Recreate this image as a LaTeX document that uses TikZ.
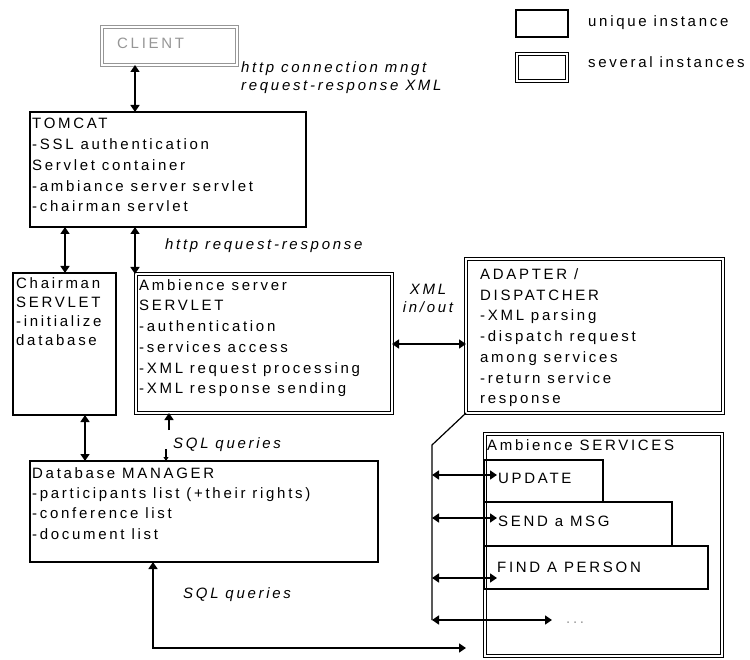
\documentclass[tikz,border=0pt]{standalone}
\usepackage{fontspec}
\setmainfont{Liberation Sans}[LetterSpace=18]
\usetikzlibrary{arrows.meta}
\definecolor{clientgrey}{RGB}{150,150,150}
\begin{document}
\begin{tikzpicture}[x=1pt,y=-1pt,
  >={Triangle[length=7pt,width=9pt]},
  box/.style={draw, line width=1.5pt, inner sep=0pt, outer sep=0pt, anchor=north west},
  multi/.style={draw, double, double distance=2pt, line width=1.2pt, inner sep=0pt, outer sep=0pt, anchor=north west},
  txt/.style={inner sep=0pt, anchor=base west, align=left, font=\fontsize{15}{20.7}\selectfont},
  mtxt/.style={inner sep=0pt, anchor=north west, align=left, font=\fontsize{15}{20.7}\selectfont},
  lab/.style={inner sep=0pt, anchor=base west, align=left, font=\fontsize{15}{18}\selectfont\itshape},
  mlab/.style={inner sep=0pt, anchor=north west, align=left, font=\fontsize{15}{18}\selectfont\itshape},
  conn/.style={line width=1.5pt, <->},
  wire/.style={line width=1.2pt}
]
\path[use as bounding box] (0,0) rectangle (750,660);

% legend
\node[box, minimum width=52pt, minimum height=27pt] (leg1) at (516,10) {};
\node[txt] (leg1t) at (588,27) {unique instance};
\node[multi, minimum width=50pt, minimum height=27pt] (leg2) at (517,54) {};
\node[txt] (leg2t) at (588,68) {several instances};

% client
\node[multi, draw=clientgrey, minimum width=135pt, minimum height=38pt] (client) at (102,27) {};
\node[txt, text=clientgrey] (clientt) at (117,49) {CLIENT};

% tomcat
\node[box, minimum width=276pt, minimum height=115pt] (tomcat) at (30,112) {};
\node[mtxt] (tomcatt) at (32,118.3) {TOMCAT\\-SSL authentication\\Servlet container\\-ambiance server servlet\\-chairman servlet};

% chairman
\node[box, minimum width=103pt, minimum height=142pt] (chair) at (13,273) {};
\node[mtxt, font=\fontsize{15}{19}\selectfont] (chairt) at (16,277.2) {Chairman\\SERVLET\\-initialize\\database};

% ambience server
\node[multi, minimum width=256pt, minimum height=139pt] (amb) at (136,274) {};
\node[mtxt] (ambt) at (139,279.2) {Ambience server\\SERVLET\\-authentication\\-services access\\-XML request processing\\-XML response sending};

% adapter
\node[multi, minimum width=257pt, minimum height=154pt] (adapt) at (466,259) {};
\node[mtxt] (adaptt) at (480,268.5) {ADAPTER /\\DISPATCHER\\-XML parsing\\-dispatch request\\among services\\-return service\\response};

% database
\node[box, minimum width=348pt, minimum height=101pt] (db) at (30,461) {};
\node[mtxt, font=\fontsize{15}{20.3}\selectfont] (dbt) at (32,467.3) {Database MANAGER\\-participants list (+their rights)\\-conference list\\-document list};

% services
\node[multi, minimum width=237pt, minimum height=222pt] (serv) at (485,434) {};
\node[txt] (servt) at (487,450) {Ambience SERVICES};
\node[box, minimum width=119pt, minimum height=42pt] (upd) at (484,460) {};
\node[txt] (updt) at (498,483) {UPDATE};
\node[box, minimum width=188pt, minimum height=44pt] (send) at (484,502) {};
\node[txt] (sendt) at (498,526) {SEND a MSG};
\node[box, minimum width=224pt, minimum height=43pt] (find) at (484,546) {};
\node[txt] (findt) at (497,572) {FIND A PERSON};
\node[txt, text=clientgrey] (dots) at (566,623) {...};

% labels
\node[mlab] (l1) at (241,61.2) {http connection mngt\\request-response XML};
\node[lab] (l2) at (165,250) {http request-response};
\node[mlab, align=center, anchor=north] (l3) at (428,284.2) {XML\\in/out};
\node[lab] (l4) at (173,448) {SQL queries};
\node[lab] (l5) at (183,598) {SQL queries};

% coordinates
\coordinate (c1) at (169,430);
\coordinate (c2) at (166,449);
\coordinate (bend) at (432,445);
\coordinate (busend) at (432,620);
\coordinate (b1) at (432,475);
\coordinate (b2) at (432,518);
\coordinate (b3) at (432,578);
\coordinate (b4) at (432,620);
\coordinate (t1) at (497,475);
\coordinate (t2) at (497,518);
\coordinate (t3) at (497,578);
\coordinate (t4) at (552,620);
\coordinate (q1) at (153,648);
\coordinate (q2) at (466,648);

% connectors
\draw[conn] (client.south -| 135,0) -- (tomcat.north -| 135,0);
\draw[conn] (tomcat.south -| 65,0) -- (chair.north -| 65,0);
\draw[conn] (tomcat.south -| 135,0) -- (amb.north -| 135,0);
\draw[conn] (amb.east |- 0,344) -- (adapt.west |- 0,344);
\draw[conn] (chair.south -| 85,0) -- (db.north -| 85,0);
\draw[line width=1.5pt, ->] (c1) -- (amb.south -| c1);
\draw[line width=1.2pt, ->, >={Triangle[length=4pt,width=5pt]}] (c2) -- (db.north -| c2);
\draw[conn] (db.south -| q1) -- (q1) -- (q2);
\draw[wire] (adapt.south west) -- (bend) -- (busend);
\draw[conn] (b1) -- (t1);
\draw[conn] (b2) -- (t2);
\draw[conn] (b3) -- (t3);
\draw[conn] (b4) -- (t4);
\end{tikzpicture}
\end{document}
